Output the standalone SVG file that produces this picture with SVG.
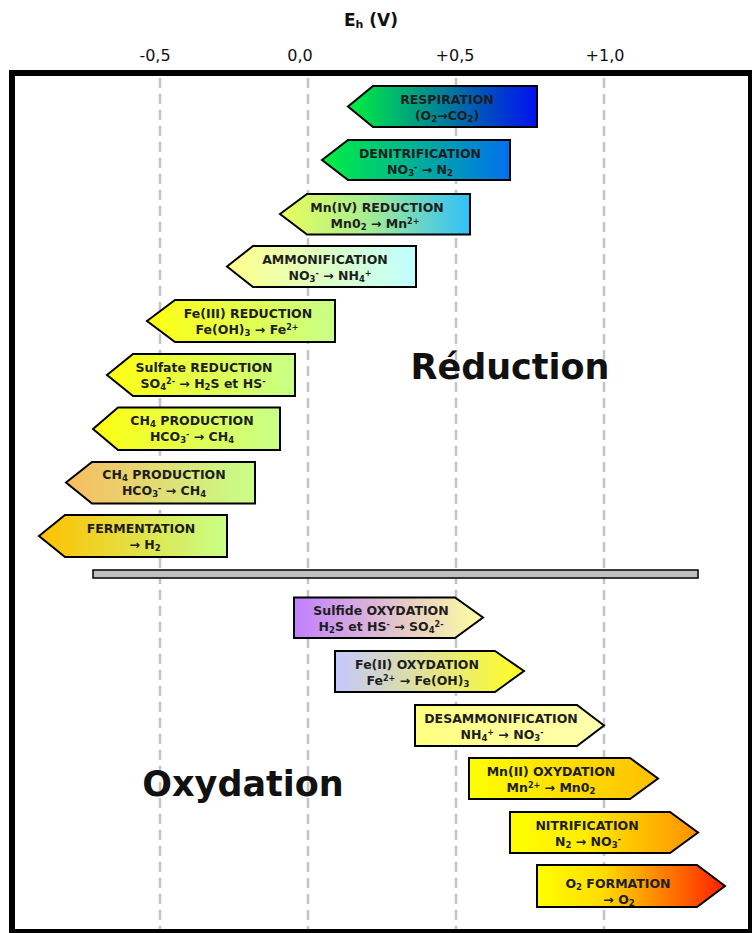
<svg xmlns="http://www.w3.org/2000/svg" width="752" height="933" viewBox="0 0 752 933">
<style>
.box{stroke:#000;stroke-width:2;stroke-linejoin:miter}
.t{font-family:"DejaVu Sans",Verdana,sans-serif;font-weight:bold;font-size:12.5px;fill:#1e1e1e;text-anchor:middle}
.ax{font-family:"DejaVu Sans",Verdana,sans-serif;font-size:16px;fill:#111;text-anchor:middle}
.big{font-family:"DejaVu Sans",Verdana,sans-serif;font-weight:bold;font-size:35px;fill:#111;text-anchor:middle}
.grid{stroke:#c4c4c4;stroke-width:2.5;stroke-dasharray:10,6;fill:none}
.s{font-size:8.5px;baseline-shift:-1.5px}
.p{font-size:8px;baseline-shift:4px}
</style>
<defs>
<linearGradient id="g1"><stop offset="0" stop-color="#00f040"/><stop offset="1" stop-color="#0010f0"/></linearGradient>
<linearGradient id="g2"><stop offset="0" stop-color="#00f040"/><stop offset="1" stop-color="#0070f0"/></linearGradient>
<linearGradient id="g3"><stop offset="0" stop-color="#eaff5a"/><stop offset="0.45" stop-color="#a8ee90"/><stop offset="1" stop-color="#30c0f8"/></linearGradient>
<linearGradient id="g4"><stop offset="0" stop-color="#ffff88"/><stop offset="1" stop-color="#c0ffff"/></linearGradient>
<linearGradient id="g5"><stop offset="0" stop-color="#ffff10"/><stop offset="1" stop-color="#c8ff88"/></linearGradient>
<linearGradient id="g8"><stop offset="0" stop-color="#f8bc60"/><stop offset="1" stop-color="#c8ff88"/></linearGradient>
<linearGradient id="g9"><stop offset="0" stop-color="#ffc000"/><stop offset="1" stop-color="#c8ff88"/></linearGradient>
<linearGradient id="g10"><stop offset="0" stop-color="#c080ff"/><stop offset="1" stop-color="#ffffa0"/></linearGradient>
<linearGradient id="g11"><stop offset="0" stop-color="#c4c8ff"/><stop offset="1" stop-color="#ffff20"/></linearGradient>
<linearGradient id="g12"><stop offset="0" stop-color="#ffff80"/><stop offset="1" stop-color="#ffffb0"/></linearGradient>
<linearGradient id="g13"><stop offset="0" stop-color="#ffff00"/><stop offset="1" stop-color="#ffc000"/></linearGradient>
<linearGradient id="g14"><stop offset="0" stop-color="#ffff00"/><stop offset="0.4" stop-color="#ffec00"/><stop offset="1" stop-color="#ff9000"/></linearGradient>
<linearGradient id="g15"><stop offset="0" stop-color="#ffff00"/><stop offset="0.35" stop-color="#ffdc00"/><stop offset="1" stop-color="#ff2000"/></linearGradient>
</defs>
<rect width="752" height="933" fill="#fff"/>
<g id="axis">
<text x="371" y="26" font-family="'DejaVu Sans',Verdana,sans-serif" font-weight="bold" font-size="17" fill="#111" text-anchor="middle">E<tspan font-size="11" baseline-shift="-2px">h</tspan> (V)</text>
<text class="ax" x="155" y="61">-0,5</text>
<text class="ax" x="300" y="61">0,0</text>
<text class="ax" x="455" y="61">+0,5</text>
<text class="ax" x="605" y="61">+1,0</text>
</g>
<g id="gridlines">
<line class="grid" x1="160" y1="78" x2="160" y2="930"/>
<line class="grid" x1="308" y1="78" x2="308" y2="930"/>
<line class="grid" x1="456" y1="78" x2="456" y2="930"/>
<line class="grid" x1="604" y1="78" x2="604" y2="930"/>
</g>
<rect id="frame" x="12" y="73" width="739" height="859" fill="none" stroke="#000" stroke-width="6"/>
<g id="labels">
<text class="big" x="510" y="379">Réduction</text>
<text class="big" x="243" y="796">Oxydation</text>
</g>
<rect id="separator" x="93" y="570" width="605" height="8" fill="#c0c0c0" stroke="#000" stroke-width="1.5"/>
<g id="respiration">
<polygon class="box" fill="url(#g1)" points="348,106.5 373,86 537,86 537,127 373,127"/>
<text class="t" x="447" y="104">RESPIRATION</text>
<text class="t" x="447" y="120">(O<tspan class="s">2</tspan>→CO<tspan class="s">2</tspan>)</text>
</g>
<g id="denitrification">
<polygon class="box" fill="url(#g2)" points="322,160 348,140 510,140 510,180 348,180"/>
<text class="t" x="420" y="158">DENITRIFICATION</text>
<text class="t" x="420" y="174">NO<tspan class="s">3</tspan><tspan class="p">-</tspan> → N<tspan class="s">2</tspan></text>
</g>
<g id="mniv-reduction">
<polygon class="box" fill="url(#g3)" points="280,214 307,194 470,194 470,234.5 307,234.5"/>
<text class="t" x="377" y="212">Mn(IV) REDUCTION</text>
<text class="t" x="375" y="228">Mn0<tspan class="s">2</tspan> → Mn<tspan class="p">2+</tspan></text>
</g>
<g id="ammonification">
<polygon class="box" fill="url(#g4)" points="227,266.5 253,246 416,246 416,287 253,287"/>
<text class="t" x="325" y="264">AMMONIFICATION</text>
<text class="t" x="330" y="280">NO<tspan class="s">3</tspan><tspan class="p">-</tspan> → NH<tspan class="s">4</tspan><tspan class="p">+</tspan></text>
</g>
<g id="feiii-reduction">
<polygon class="box" fill="url(#g5)" points="147,321 175,300 335,300 335,342 175,342"/>
<text class="t" x="248" y="318">Fe(III) REDUCTION</text>
<text class="t" x="247" y="334">Fe(OH)<tspan class="s">3</tspan> → Fe<tspan class="p">2+</tspan></text>
</g>
<g id="sulfate-reduction">
<polygon class="box" fill="url(#g5)" points="107,375 133,354 295,354 295,396 133,396"/>
<text class="t" x="204" y="372">Sulfate REDUCTION</text>
<text class="t" x="203" y="388">SO<tspan class="s">4</tspan><tspan class="p">2-</tspan> → H<tspan class="s">2</tspan>S et HS<tspan class="p">-</tspan></text>
</g>
<g id="ch4-production-1">
<polygon class="box" fill="url(#g5)" points="93,429 118,407.5 280,407.5 280,450 118,450"/>
<text class="t" x="192" y="425">CH<tspan class="s">4</tspan> PRODUCTION</text>
<text class="t" x="192" y="441">HCO<tspan class="s">3</tspan><tspan class="p">-</tspan> → CH<tspan class="s">4</tspan></text>
</g>
<g id="ch4-production-2">
<polygon class="box" fill="url(#g8)" points="66,482.5 92,462 255,462 255,503.5 92,503.5"/>
<text class="t" x="164" y="479">CH<tspan class="s">4</tspan> PRODUCTION</text>
<text class="t" x="164" y="495">HCO<tspan class="s">3</tspan><tspan class="p">-</tspan> → CH<tspan class="s">4</tspan></text>
</g>
<g id="fermentation">
<polygon class="box" fill="url(#g9)" points="39,536 65,515 227,515 227,557 65,557"/>
<text class="t" x="141" y="533">FERMENTATION</text>
<text class="t" x="145" y="549">→ H<tspan class="s">2</tspan></text>
</g>
<g id="sulfide-oxydation">
<polygon class="box" fill="url(#g10)" points="294,597.5 455,597.5 483,617.5 455,638 294,638"/>
<text class="t" x="381" y="615">Sulfide OXYDATION</text>
<text class="t" x="381" y="631">H<tspan class="s">2</tspan>S et HS<tspan class="p">-</tspan> → SO<tspan class="s">4</tspan><tspan class="p">2-</tspan></text>
</g>
<g id="feii-oxydation">
<polygon class="box" fill="url(#g11)" points="335,651 495,651 524,671 495,692 335,692"/>
<text class="t" x="417" y="669">Fe(II) OXYDATION</text>
<text class="t" x="418" y="685">Fe<tspan class="p">2+</tspan> → Fe(OH)<tspan class="s">3</tspan></text>
</g>
<g id="desammonification">
<polygon class="box" fill="url(#g12)" points="415,705 577,705 604,725.5 577,746 415,746"/>
<text class="t" x="501" y="723">DESAMMONIFICATION</text>
<text class="t" x="502" y="739">NH<tspan class="s">4</tspan><tspan class="p">+</tspan> → NO<tspan class="s">3</tspan><tspan class="p">-</tspan></text>
</g>
<g id="mnii-oxydation">
<polygon class="box" fill="url(#g13)" points="469,758 630,758 658,778.5 630,799 469,799"/>
<text class="t" x="551" y="776">Mn(II) OXYDATION</text>
<text class="t" x="551" y="792">Mn<tspan class="p">2+</tspan> → Mn0<tspan class="s">2</tspan></text>
</g>
<g id="nitrification">
<polygon class="box" fill="url(#g14)" points="510,812 670,812 698,832.5 670,853 510,853"/>
<text class="t" x="587" y="830">NITRIFICATION</text>
<text class="t" x="588" y="846">N<tspan class="s">2</tspan> → NO<tspan class="s">3</tspan><tspan class="p">-</tspan></text>
</g>
<g id="o2-formation">
<polygon class="box" fill="url(#g15)" points="537,865 697,865 725,886 697,907 537,907"/>
<text class="t" x="618" y="888">O<tspan class="s">2</tspan> FORMATION</text>
<text class="t" x="619" y="904">→ O<tspan class="s">2</tspan></text>
</g>
</svg>
